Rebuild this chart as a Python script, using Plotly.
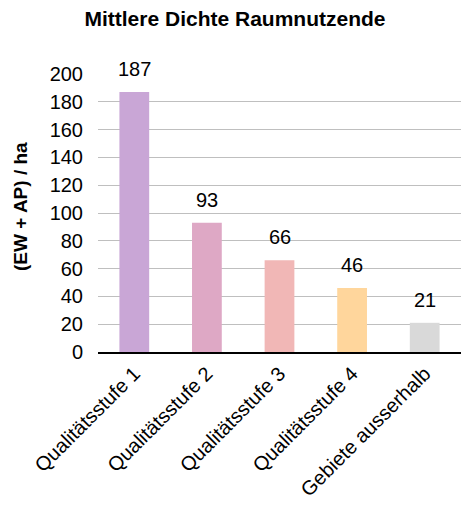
import plotly.graph_objects as go

categories = ["Qualitätsstufe 1", "Qualitätsstufe 2", "Qualitätsstufe 3",
              "Qualitätsstufe 4", "Gebiete ausserhalb"]
values = [187, 93, 66, 46, 21]
colors = ["#C9A6D6", "#DEA8C5", "#F1B7B6", "#FFD69C", "#D9D9D9"]

font_family = "Liberation Sans, Arial, sans-serif"

fig = go.Figure(go.Bar(
    x=categories,
    y=values,
    marker=dict(color=colors, line=dict(width=0)),
    width=0.41,
    cliponaxis=False,
))

# value labels sit a little above each bar
for cat, val in zip(categories, values):
    fig.add_annotation(
        x=cat, y=val, text=str(val), showarrow=False,
        xanchor="center", yanchor="bottom", yshift=10,
        font=dict(size=20, family=font_family, color="#000000"),
    )

fig.update_layout(
    width=461, height=508,
    margin=dict(l=98, r=0, t=74, b=156),
    paper_bgcolor="white", plot_bgcolor="white",
    font=dict(family=font_family, color="#000000"),
    showlegend=False,
    title=dict(text="<b>Mittlere Dichte Raumnutzende</b>",
               x=235 / 461, xref="container", xanchor="center",
               y=1 - 19 / 508, yref="container", yanchor="middle",
               font=dict(size=21, family=font_family, color="#000000")),
    bargap=0.59,
)

fig.update_yaxes(
    range=[0, 200], dtick=20, tick0=0,
    showgrid=True, gridcolor="#BFBFBF", gridwidth=1,
    zeroline=False, showline=False,
    tickfont=dict(size=20, family=font_family, color="#000000"),
    ticklabelstandoff=14,
)

fig.update_xaxes(
    showgrid=False, showline=True, linecolor="#000000", linewidth=2,
    tickangle=-45,
    tickfont=dict(size=20, family=font_family, color="#000000"),
    ticks="",
)

fig.add_annotation(
    text="<b>(EW + AP) / ha</b>", textangle=-90,
    xref="paper", yref="paper", x=(20 - 98) / 363, y=0.5 + 6 / 278,
    xanchor="center", yanchor="middle", showarrow=False,
    font=dict(size=19, family=font_family, color="#000000"),
)

fig.write_html("out.html")
